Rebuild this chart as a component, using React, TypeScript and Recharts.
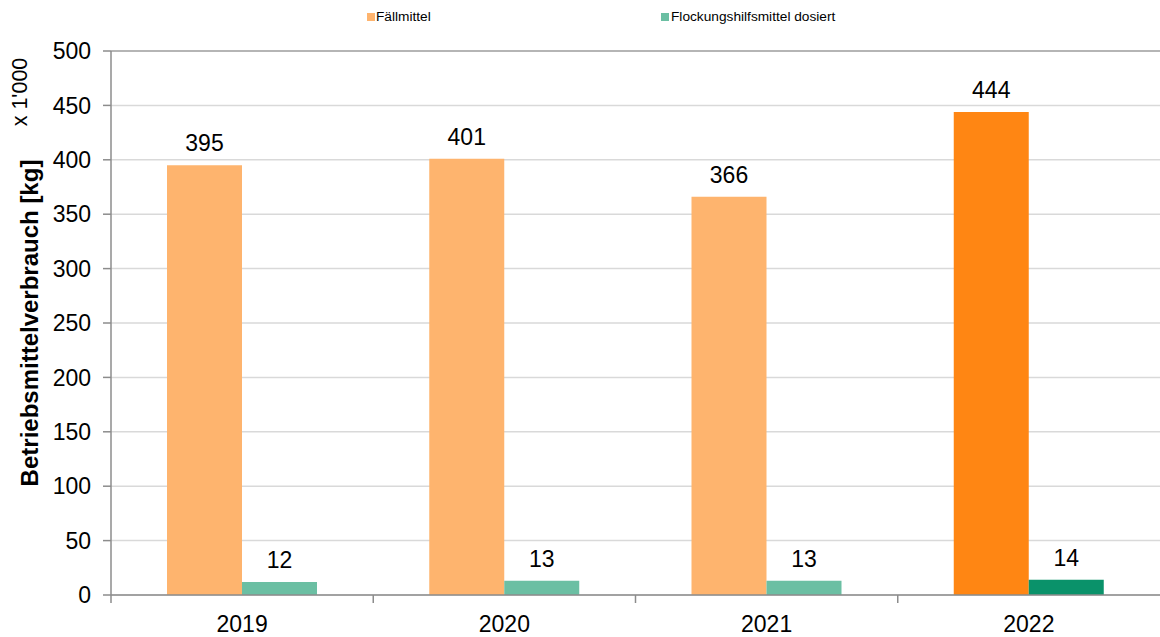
import React from 'react';
import { Bar, BarChart, CartesianGrid, Cell, LabelList, ReferenceLine, XAxis, YAxis } from 'recharts';

const years = ['2019', '2020', '2021', '2022'];
const faellmittel = [395, 401, 366, 444];
const flockung = [12, 13, 13, 14];
const seriesNames = ['Fällmittel', 'Flockungshilfsmittel dosiert'];
const yTicks = [0, 50, 100, 150, 200, 250, 300, 350, 400, 450, 500];

// previous years muted, current year saturated
const FALL_COLORS = ['#FEB46E', '#FEB46E', '#FEB46E', '#FF8613'];
const FLOCK_COLORS = ['#6BBFA3', '#6BBFA3', '#6BBFA3', '#0A926A'];

const data = years.map((year, i) => ({
  year,
  fall: faellmittel[i],
  flock: flockung[i],
}));

const FONT = '"Liberation Sans", Arial, sans-serif';
const AXIS = '#8C8C8C';

// Excel-style category axis: tick marks sit between the categories, label in the middle
function YearTick(props: any) {
  const { x, y, payload } = props;
  const left = x - (payload.offset ?? 0);
  return (
    <g>
      <line x1={left} x2={left} y1={y} y2={y + 8} stroke={AXIS} strokeWidth={1.5} />
      <text x={x} y={y + 37} textAnchor="middle" fill="#000" fontSize={23} fontFamily={FONT}>
        {payload.value}
      </text>
    </g>
  );
}

export default function App() {
  return (
    <div style={{ position: 'absolute', left: 0, top: 0, width: 1160, height: 637, fontFamily: FONT, background: '#fff' }}>
      <BarChart
        width={1160}
        height={637}
        data={data}
        margin={{ top: 51, right: 0, left: 51, bottom: 0 }}
        barGap={0}
        barSize={75}
      >
        <CartesianGrid vertical={false} stroke="#D9D9D9" strokeWidth={1.5} />
        <XAxis
          dataKey="year"
          height={42}
          axisLine={{ stroke: AXIS, strokeWidth: 1.5 }}
          tickLine={false}
          tickSize={0}
          tickMargin={0}
          tick={<YearTick />}
        />
        <YAxis
          width={60}
          domain={[0, 500]}
          ticks={yTicks}
          interval={0}
          axisLine={{ stroke: AXIS, strokeWidth: 1.5 }}
          tickLine={{ stroke: AXIS, strokeWidth: 1.5 }}
          tickSize={8}
          tickMargin={12}
          tick={{ fill: '#000', fontSize: 23, fontFamily: FONT }}
        />
        <ReferenceLine y={500} stroke="#A6A6A6" strokeWidth={1.5} />
        <Bar dataKey="fall" isAnimationActive={false}>
          {data.map((_, i) => (
            <Cell key={i} fill={FALL_COLORS[i]} />
          ))}
          <LabelList dataKey="fall" position="top" offset={14} fill="#000" fontSize={23} fontFamily={FONT} />
        </Bar>
        <Bar dataKey="flock" isAnimationActive={false}>
          {data.map((_, i) => (
            <Cell key={i} fill={FLOCK_COLORS[i]} />
          ))}
          <LabelList dataKey="flock" position="top" offset={14} fill="#000" fontSize={23} fontFamily={FONT} />
        </Bar>
      </BarChart>

      {/* legend */}
      <div style={{ position: 'absolute', left: 367, top: 9, display: 'flex', alignItems: 'center', fontSize: 13.7, color: '#000' }}>
        <span style={{ width: 8, height: 8, background: FALL_COLORS[0], marginRight: 1 }} />
        {seriesNames[0]}
      </div>
      <div style={{ position: 'absolute', left: 661, top: 9, display: 'flex', alignItems: 'center', fontSize: 13.7, color: '#000' }}>
        <span style={{ width: 8, height: 8, background: FLOCK_COLORS[0], marginRight: 2 }} />
        {seriesNames[1]}
      </div>

      {/* axis titles */}
      <div
        style={{
          position: 'absolute', left: 30, top: 323, transform: 'translate(-50%, -50%) rotate(-90deg)',
          whiteSpace: 'nowrap', fontWeight: 'bold', fontSize: 24, color: '#000',
        }}
      >
        Betriebsmittelverbrauch [kg]
      </div>
      <div
        style={{
          position: 'absolute', left: 20, top: 92, transform: 'translate(-50%, -50%) rotate(-90deg)',
          whiteSpace: 'nowrap', fontSize: 21.5, color: '#000',
        }}
      >
        x 1'000
      </div>
    </div>
  );
}
